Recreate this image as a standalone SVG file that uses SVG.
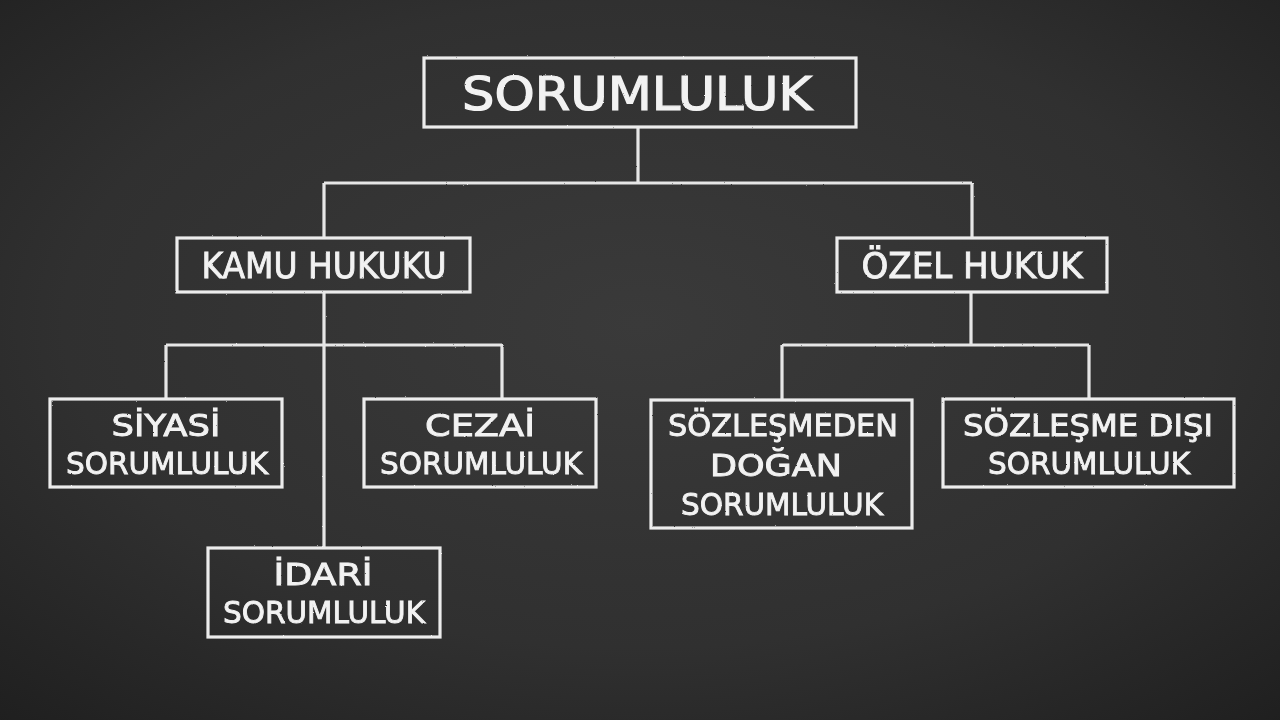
<svg xmlns="http://www.w3.org/2000/svg" width="1280" height="720" viewBox="0 0 1280 720">
<defs>
<radialGradient id="bg" cx="50%" cy="45%" r="75%">
<stop offset="0" stop-color="#3a3a3a"/>
<stop offset="0.6" stop-color="#303030"/>
<stop offset="1" stop-color="#1f1f1f"/>
</radialGradient>
<filter id="chalk" x="-5%" y="-5%" width="110%" height="110%">
<feTurbulence type="fractalNoise" baseFrequency="0.9" numOctaves="2" seed="3" result="n"/>
<feDisplacementMap in="SourceGraphic" in2="n" scale="1.6" xChannelSelector="R" yChannelSelector="G"/>
</filter>
<style>
.box{fill:none;stroke:#ececec;stroke-width:3.2}
.line{fill:none;stroke:#e6e6e6;stroke-width:3.2}
.t{font-family:"DejaVu Sans","Liberation Sans",sans-serif;fill:#f2f2f2;stroke:#f2f2f2;stroke-width:0.9;text-anchor:middle}
.big{font-size:46px;stroke-width:1.2}
.mid{font-size:36px}
.sm{font-size:31px}
</style>
</defs>
<rect width="1280" height="720" fill="url(#bg)"/>
<g id="connectors" filter="url(#chalk)">
<path class="line" d="M638 127V183M324 183H972M324 183V238M972 183V238"/>
<path class="line" d="M324 292V548M166 345H502M166 345V399M502 345V399"/>
<path class="line" d="M971 292V345M782 345H1089M782 345V400M1089 345V399"/>
</g>
<g filter="url(#chalk)">
<g id="sorumluluk">
<rect class="box" x="424" y="58" width="432" height="69"/>
<text class="t big" x="637" y="110" textLength="350" lengthAdjust="spacingAndGlyphs">SORUMLULUK</text>
</g>
<g id="kamu">
<rect class="box" x="177" y="238" width="293" height="54"/>
<text class="t mid" x="324" y="278" textLength="245" lengthAdjust="spacingAndGlyphs">KAMU HUKUKU</text>
</g>
<g id="ozel">
<rect class="box" x="837" y="238" width="270" height="54"/>
<text class="t mid" x="972" y="278" textLength="221" lengthAdjust="spacingAndGlyphs">ÖZEL HUKUK</text>
</g>
<g id="siyasi">
<rect class="box" x="50" y="399" width="232" height="88"/>
<text class="t sm" x="166" y="436" textLength="109" lengthAdjust="spacingAndGlyphs">SİYASİ</text>
<text class="t sm" x="167" y="474" textLength="202" lengthAdjust="spacingAndGlyphs">SORUMLULUK</text>
</g>
<g id="cezai">
<rect class="box" x="364" y="399" width="232" height="88"/>
<text class="t sm" x="480" y="436" textLength="110" lengthAdjust="spacingAndGlyphs">CEZAİ</text>
<text class="t sm" x="481" y="474" textLength="202" lengthAdjust="spacingAndGlyphs">SORUMLULUK</text>
</g>
<g id="idari">
<rect class="box" x="208" y="548" width="232" height="89"/>
<text class="t sm" x="323" y="585" textLength="99" lengthAdjust="spacingAndGlyphs">İDARİ</text>
<text class="t sm" x="324" y="623" textLength="202" lengthAdjust="spacingAndGlyphs">SORUMLULUK</text>
</g>
<g id="sozlesmeden">
<rect class="box" x="651" y="400" width="261" height="128"/>
<text class="t sm" x="783" y="436" textLength="230" lengthAdjust="spacingAndGlyphs">SÖZLEŞMEDEN</text>
<text class="t sm" x="776" y="476" textLength="132" lengthAdjust="spacingAndGlyphs">DOĞAN</text>
<text class="t sm" x="782" y="515" textLength="202" lengthAdjust="spacingAndGlyphs">SORUMLULUK</text>
</g>
<g id="sozlesmedisi">
<rect class="box" x="943" y="399" width="291" height="88"/>
<text class="t sm" x="1088" y="436" textLength="250" lengthAdjust="spacingAndGlyphs">SÖZLEŞME DIŞI</text>
<text class="t sm" x="1089" y="474" textLength="202" lengthAdjust="spacingAndGlyphs">SORUMLULUK</text>
</g>
</g>
</svg>
